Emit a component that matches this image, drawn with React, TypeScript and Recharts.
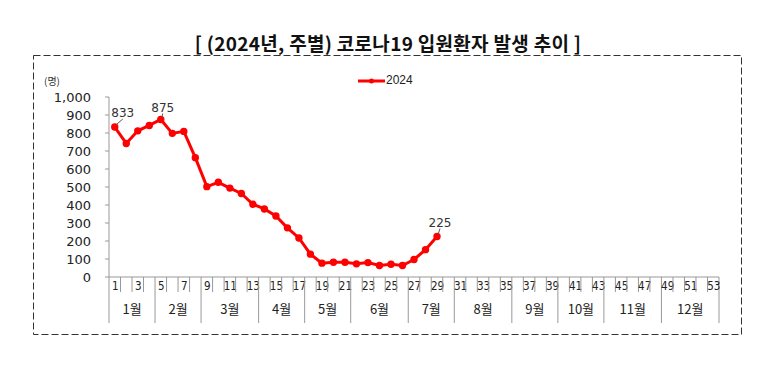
import React from 'react';
import { LineChart, Line, XAxis, YAxis, LabelList } from 'recharts';

// weekly COVID-19 hospitalised patients, 2024
const weeks = Array.from({ length: 53 }, (_, i) => i + 1);
const patients2024 = [
  833, 742, 812, 842, 875, 798, 809, 663, 502, 526,
  494, 464, 404, 378, 339, 273, 217, 127, 77, 82,
  82, 73, 80, 64, 71, 64, 97, 152, 225,
];
const yTicks = [0, 100, 200, 300, 400, 500, 600, 700, 800, 900, 1000];
const monthNames = ['1월', '2월', '3월', '4월', '5월', '6월', '7월', '8월', '9월', '10월', '11월', '12월'];
const monthStartWeeks = [1, 5, 9, 14, 18, 22, 27, 31, 36, 40, 44, 49];
const labelledWeeks = [1, 5, 29];

const data = weeks.map((w, i) => ({
  week: w,
  value: i < patients2024.length ? patients2024[i] : null,
}));

const PLOT_LEFT = 109;
const PLOT_RIGHT = 719;
const BAND = (PLOT_RIGHT - PLOT_LEFT) / weeks.length;
const GRID = '#999999';
const NUM_FONT = '"DejaVu Sans", sans-serif';
const KR_FONT = '"Noto Sans CJK KR", sans-serif';

const WeekTick = (props: any) => {
  const { x, y, payload } = props;
  const week = payload.value as number;
  const left = x - BAND / 2;
  const mi = monthStartWeeks.indexOf(week);
  const span = mi >= 0 ? (monthStartWeeks[mi + 1] ?? weeks.length + 1) - week : 0;
  return (
    <g>
      <line x1={left} x2={left} y1={y} y2={mi >= 0 ? y + 46 : y + 15} stroke={GRID} />
      {week === weeks.length && (
        <line x1={x + BAND / 2} x2={x + BAND / 2} y1={y} y2={y + 46} stroke={GRID} />
      )}
      {week % 2 === 1 && (
        <text x={x + 0.5} y={y + 13} textAnchor="middle" fontSize={11.5} fontFamily='"DejaVu Sans Condensed", "DejaVu Sans", sans-serif' fill="#222">
          {week}
        </text>
      )}
      {mi >= 0 && (
        <text x={left + (span * BAND) / 2} y={y + 37} textAnchor="middle" fontSize={13} fontFamily={KR_FONT} fill="#222">
          {monthNames[mi]}
        </text>
      )}
    </g>
  );
};

const labelOffsets: Record<number, [number, number]> = { 1: [8, -14], 5: [2, -12], 29: [3, -14] };

const PointLabel = (props: any) => {
  const { x, y, value, index } = props;
  const week = weeks[index];
  if (!labelledWeeks.includes(week) || value == null) return null;
  const [dx, dy] = labelOffsets[week];
  return (
    <g>
      <line x1={x + 1} y1={y - 2} x2={x + dx} y2={y + dy + 6} stroke="#555" />
      <text x={x + dx} y={y + dy + 4} textAnchor="middle" fontSize={12} fontFamily={NUM_FONT} fill="#333">
        {value}
      </text>
    </g>
  );
};

export default function App() {
  return (
    <div style={{ position: 'absolute', left: 0, top: 0, width: 766, height: 366, background: '#fff' }}>
      <svg width={766} height={366} style={{ position: 'absolute', left: 0, top: 0 }}>
        <rect x={33.5} y={55.5} width={708} height={279} fill="none" stroke="#333" strokeDasharray="7 3" />
      </svg>
      <div
        style={{
          position: 'absolute', left: 0, top: 29, width: 776, textAlign: 'center',
          fontFamily: KR_FONT, fontWeight: 700, fontSize: 19, color: '#111', letterSpacing: 0.3,
        }}
      >
        [ (2024년, 주별) 코로나19 입원환자 발생 추이 ]
      </div>
      <div style={{ position: 'absolute', left: 44, top: 73, fontFamily: KR_FONT, fontSize: 10, color: '#333' }}>
        (명)
      </div>
      <div style={{ position: 'absolute', left: 358, top: 73, display: 'flex', alignItems: 'center' }}>
        <svg width={27} height={14}>
          <line x1={0} x2={27} y1={8} y2={8} stroke="#ff0000" strokeWidth={3} />
          <circle cx={13.5} cy={8} r={2.5} fill="#ff0000" />
        </svg>
        <span style={{ fontFamily: '"Liberation Sans", sans-serif', fontSize: 12, color: '#222', marginLeft: 1 }}>2024</span>
      </div>
      <div style={{ position: 'absolute', left: 0, top: 0 }}>
        <LineChart width={766} height={366} data={data} margin={{ top: 97, right: 766 - PLOT_RIGHT, bottom: 39, left: 0 }}>
          <XAxis
            dataKey="week"
            type="category"
            interval={0}
            height={50}
            padding={{ left: BAND / 2, right: BAND / 2 }}
            tickLine={false}
            tickSize={0}
            tickMargin={0}
            axisLine={{ stroke: GRID }}
            tick={<WeekTick />}
          />
          <YAxis
            width={PLOT_LEFT}
            domain={[0, 1000]}
            ticks={yTicks}
            interval={0}
            tickSize={4}
            tickMargin={14}
            axisLine={{ stroke: GRID }}
            tickLine={{ stroke: GRID }}
            tickFormatter={(v: number) => v.toLocaleString('en-US')}
            tick={{ fontSize: 13, fontFamily: NUM_FONT, fill: '#222' }}
          />
          <Line
            type="linear"
            dataKey="value"
            stroke="#ff0000"
            strokeWidth={3}
            dot={{ r: 2.2, fill: '#ff0000', stroke: '#ff0000' }}
            connectNulls={false}
            isAnimationActive={false}
          >
            <LabelList dataKey="value" content={<PointLabel />} />
          </Line>
        </LineChart>
      </div>
    </div>
  );
}
